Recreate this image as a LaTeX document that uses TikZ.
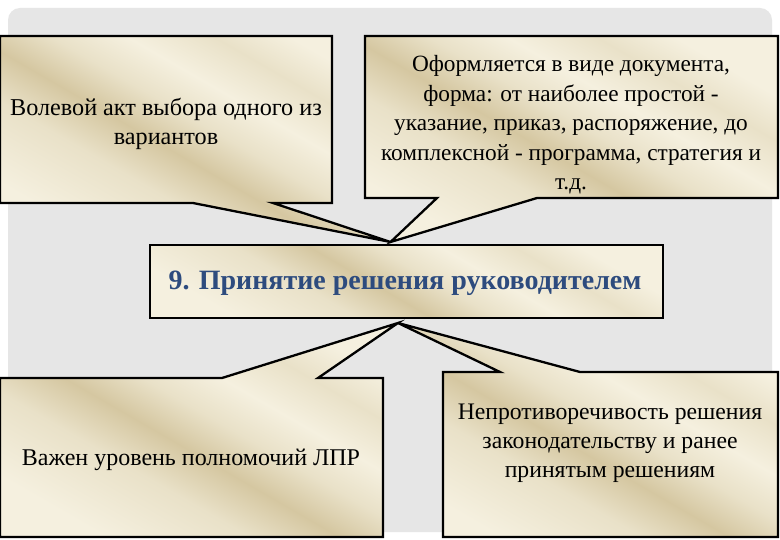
\documentclass[tikz,border=0pt]{standalone}
\usepackage{fontspec}
\setmainfont{Liberation Serif}
\usetikzlibrary{calc}
\definecolor{bgray}{HTML}{E6E6E6}
\definecolor{pc1}{HTML}{F5F0DF}
\definecolor{pc2}{HTML}{E9E1C8}
\definecolor{pc3}{HTML}{D5C7A1}
\definecolor{titleblue}{HTML}{2D4B7E}
\pgfdeclarehorizontalshading{parchment}{100bp}{color(0bp)=(pc1); color(25bp)=(pc1); color(38bp)=(pc2); color(46bp)=(pc3); color(53bp)=(pc2); color(60bp)=(pc1); color(68bp)=(pc2); color(75bp)=(pc1); color(100bp)=(pc1)}
\begin{document}
\begin{tikzpicture}[x=1pt,y=-1pt,
  callout/.style={shading=parchment, shading angle=60, draw=black, line width=2.3pt, line join=miter},
  geom/.style={inner sep=0pt, outer sep=0pt, minimum width=#1},
  txt/.style={align=center, font=\fontsize{24}{29.5}\selectfont, inner sep=0pt}]
\useasboundingbox (0,0) rectangle (780,540);
\fill[white] (0,0) rectangle (780,540);
\fill[bgray, rounded corners=12pt] (8,8) rectangle (772,532);
% geometry nodes
\node[geom=332pt, minimum height=167pt] (A) at (166,119.5) {};
\node[geom=413pt, minimum height=162pt] (B) at (571.5,117) {};
\node[geom=513pt, minimum height=73pt] (C) at (406.5,281.5) {};
\node[geom=383pt, minimum height=159pt] (D) at (191.5,457.5) {};
\node[geom=335pt, minimum height=165pt] (E) at (610.5,454.5) {};
\coordinate (tipT) at ($(C.north)+(-16,-3)$);
\coordinate (tipB) at ($(C.south)+(-8.5,5)$);
% callouts
\shade[callout] (A.north west) -- (A.north east) -- (A.south east) -- ($(A.south west)+(273,0)$) -- (tipT) -- ($(A.south west)+(193,0)$) -- (A.south west) -- cycle;
\shade[callout] (B.north west) -- (B.north east) -- (B.south east) -- ($(B.south west)+(172,0)$) -- (tipT) -- ($(B.south west)+(72,0)$) -- (B.south west) -- cycle;
\shade[callout] (C.north west) rectangle (C.south east);
\shade[callout] (D.south west) -- (D.north west) -- ($(D.north west)+(222,0)$) -- (tipB) -- ($(D.north west)+(318,0)$) -- (D.north east) -- (D.south east) -- cycle;
\shade[callout] (E.south west) -- (E.north west) -- ($(E.north west)+(57,0)$) -- (tipB) -- ($(E.north west)+(137,0)$) -- (E.north east) -- (E.south east) -- cycle;
% texts
\node[txt, font=\fontsize{24.2}{29.5}\selectfont] (tA) at (166,124) {Волевой акт выбора одного из\\вариантов};
\node[txt, font=\fontsize{23.3}{29.5}\selectfont] (tB) at (571,125) {Оформляется в виде документа,\\форма: от наиболее простой -\\указание, приказ, распоряжение, до\\комплексной - программа, стратегия и\\т.д.};
\node[txt, font=\fontsize{28}{30}\selectfont\bfseries, text=titleblue] (tC) at (405,283) {9. Принятие решения руководителем};
\node[txt] (tD) at (191,460) {Важен уровень полномочий ЛПР};
\node[txt, font=\fontsize{23.7}{29}\selectfont] (tE) at (610,443) {Непротиворечивость решения\\законодательству и ранее\\принятым решениям};
\end{tikzpicture}
\end{document}
